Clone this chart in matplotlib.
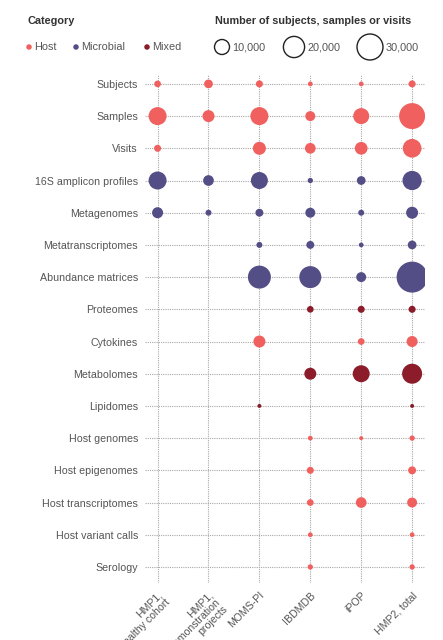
import numpy as np
import matplotlib.pyplot as plt

plt.rcParams.update({"font.family": ["Liberation Sans", "DejaVu Sans"]})

HOST, MICRO, MIXED = "#f0605f", "#544e86", "#8c1c2a"
TXT = "#555555"

# ---------- data ----------
STUDIES = ["HMP1,\nhealthy cohort", "HMP1,\ndemonstration\nprojects", "MOMS-PI",
           "IBDMDB", "iPOP", "HMP2, total"]
DATATYPES = ["Subjects", "Samples", "Visits", "16S amplicon profiles", "Metagenomes",
             "Metatranscriptomes", "Abundance matrices", "Proteomes", "Cytokines",
             "Metabolomes", "Lipidomes", "Host genomes", "Host epigenomes",
             "Host transcriptomes", "Host variant calls", "Serology"]
CATEGORY = ["Host", "Host", "Host", "Microbial", "Microbial", "Microbial", "Microbial",
            "Mixed", "Host", "Mixed", "Mixed", "Host", "Host", "Host", "Host", "Host"]
# counts per data type (rows) x study (columns); 0 = not available
COUNTS = [
    [2000, 3400, 2200, 1000, 1000, 2200],
    [14400, 6400, 14400, 4400, 11400, 30000],
    [2200, 0, 7500, 5100, 7200, 15500],
    [14400, 5100, 12800, 1250, 3400, 16500],
    [5400, 1600, 2800, 4400, 1600, 6400],
    [0, 0, 1600, 2800, 1000, 3400],
    [0, 0, 23500, 21500, 4400, 42700],
    [0, 0, 0, 2000, 2200, 2200],
    [0, 0, 6400, 0, 2000, 5400],
    [0, 0, 0, 6400, 12800, 17800],
    [0, 0, 700, 0, 0, 700],
    [0, 0, 0, 1000, 700, 1250],
    [0, 0, 0, 2200, 0, 2800],
    [0, 0, 0, 2000, 5100, 4400],
    [0, 0, 0, 1000, 0, 1000],
    [0, 0, 0, 1250, 0, 1250],
]
LEGEND_SIZES = [10000, 20000, 30000]
CAT_COLORS = {"Host": HOST, "Microbial": MICRO, "Mixed": MIXED}

DPI = 100
def msize(v):
    d_px = 15.0 * np.sqrt(np.asarray(v, dtype=float) / 10000.0)
    return (d_px * 72.0 / DPI) ** 2

fig = plt.figure(figsize=(4.43, 6.4), dpi=DPI)
fig.patch.set_facecolor("white")

ax = fig.add_axes([0.327, 0.089, 0.632, 0.794])
counts = np.array(COUNTS)
for i, row in enumerate(counts):
    cols = np.nonzero(row)[0]
    ax.scatter(cols, np.full(len(cols), i), s=msize(row[cols]),
               color=CAT_COLORS[CATEGORY[i]], edgecolors="none", zorder=3)

ax.set_xlim(-0.25, 5.25)
ax.set_ylim(15.5, -0.28)
ax.set_yticks(range(len(DATATYPES)))
ax.set_yticklabels(DATATYPES, fontsize=7.7, color=TXT)
ax.set_xticks(range(len(STUDIES)))
ax.set_xticklabels(STUDIES, fontsize=7.6, color=TXT, rotation=45, ha="right",
                   va="top", rotation_mode="anchor", multialignment="right",
                   linespacing=0.95)
ax.tick_params(axis="y", length=0, pad=5)
ax.tick_params(axis="x", length=0, pad=5)
for s in ax.spines.values():
    s.set_visible(False)
ax.grid(True, linestyle=(0, (1, 1)), color="#a8a8a8", lw=0.8, zorder=0)
ax.set_axisbelow(True)

# ---------- legend ----------
lg = fig.add_axes([0, 0, 1, 1], zorder=-1)
lg.axis("off"); lg.set_xlim(0, 443); lg.set_ylim(640, 0)
fig.text(28 / 443, 1 - 21 / 640, "Category", fontsize=7.8, fontweight="bold",
         color="#333333", va="center")
for name, x in zip(["Host", "Microbial", "Mixed"], [29, 76, 147]):
    lg.scatter([x], [47], s=(5.5 * 0.72) ** 2, color=CAT_COLORS[name], edgecolors="none")
    lg.text(x + 5, 47, name, fontsize=7.8, color=TXT, va="center")
fig.text(215 / 443, 1 - 21 / 640, "Number of subjects, samples or visits", fontsize=7.8,
         fontweight="bold", color="#333333", va="center")
for v, x in zip(LEGEND_SIZES, [222, 294, 370]):
    lg.scatter([x], [47], s=msize(v), facecolors="none", edgecolors="#222222", lw=1.0)
    r = 7.5 * np.sqrt(v / 10000.0)
    lg.text(x + r + 2.5, 47, f"{v:,}", fontsize=7.8, color=TXT, va="center")

fig.savefig("out.png", dpi=DPI, facecolor="white")
